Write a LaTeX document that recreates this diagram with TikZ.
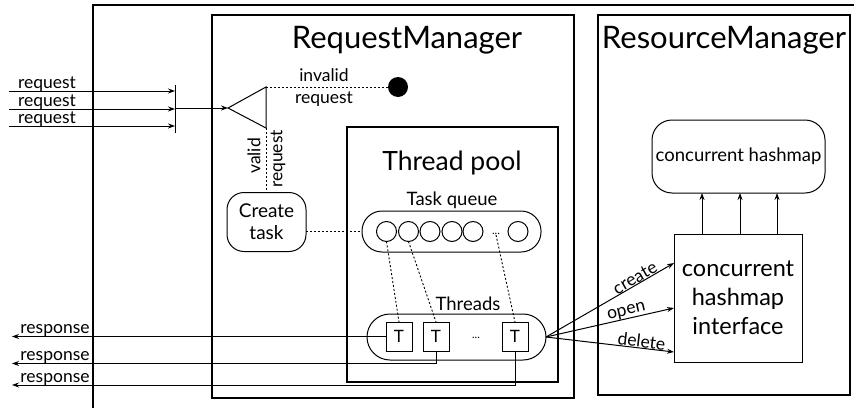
\documentclass[tikz,border=0pt]{standalone}
\usepackage{fontspec}
\setmainfont{Lato}
\usetikzlibrary{arrows.meta,calc}
\begin{document}
\begin{tikzpicture}[x=1pt,y=-1pt,
  frame/.style={draw,line width=2.6pt,inner sep=0pt,outer sep=0pt},
  ln/.style={line width=1pt},
  dots/.style={line width=0.9pt,dash pattern=on 2pt off 2pt},
  arr/.style={ln,-{Stealth[length=7pt,width=5pt]}},
  box/.style={draw,line width=1pt,inner sep=0pt,outer sep=0pt},
  big/.style={font=\fontsize{31}{34}\selectfont},
  mid/.style={font=\fontsize{26.5}{28}\selectfont},
  lbl/.style={font=\fontsize{17.5}{19}\selectfont,inner sep=1pt},
  qc/.style={circle,box,minimum size=20pt},
  tb/.style={box,minimum width=26pt,minimum height=29pt,font=\fontsize{17}{18}\selectfont}
]
\clip (0,0) rectangle (854,407);
\fill[white] (0,0) rectangle (854,407);
% outer frame
\draw[line width=2.6pt] (93,5) rectangle (900,450);
% managers
\node[frame,minimum width=362pt,minimum height=383pt] (rm) at (393,206.5) {};
\node[frame,minimum width=252pt,minimum height=380pt] (resm) at (724,205) {};
\node[frame,minimum width=211pt,minimum height=255pt] (tp) at (452.5,254.5) {};
\node[big] (rmt) at (407,40) {RequestManager};
\node[big] (resmt) at (724,40) {ResourceManager};
\node[mid] (tpt) at (452,163) {Thread pool};
% request inputs
\coordinate (bart) at (175,85);
\coordinate (barb) at (175,133);
\draw[ln] (bart) -- (barb);
\foreach \i/\y in {1/91,2/109,3/126}{
  \coordinate (in\i) at (9,\y);
  \coordinate (inend\i) at (175,\y);
  \draw[arr] (in\i) -- (inend\i);
  \node[lbl,anchor=base] (reqlbl\i) at (47,\y-3) {request};
}
% triangle
\coordinate (apex) at (228,108);
\coordinate (tritop) at (266,87);
\coordinate (tribot) at (266,128);
\coordinate (barmid) at (175,108);
\draw[ln] (apex) -- (tritop) -- (tribot) -- cycle;
\draw[arr] (barmid) -- (apex);
% invalid
\node[circle,fill=black,inner sep=0pt,minimum size=20pt] (dot) at (398,87) {};
\draw[dots] (tritop) -- (dot);
\node[lbl] (inv1) at (324,75) {invalid};
\node[lbl] (inv2) at (324,99) {request};
% create task
\node[box,rounded corners=17pt,minimum width=79pt,minimum height=59pt,align=center,
  font=\fontsize{19}{22}\selectfont] (ct) at (266.5,222) {Create\\task};
\draw[dots] (tribot) -- (ct.north -| tribot);
\node[lbl,rotate=90] (vl1) at (254,156) {valid};
\node[lbl,rotate=90] (vl2) at (278,159) {request};
% task queue
\node[box,rounded corners=20pt,minimum width=179pt,minimum height=41pt] (q) at (451.5,231.5) {};
\node[lbl,font=\fontsize{18.5}{20}\selectfont] (qt) at (452,200) {Task queue};
\node[qc] (c1) at (386.5,231.5) {};
\node[qc] (c2) at (408.5,231.5) {};
\node[qc] (c3) at (430,231.5) {};
\node[qc] (c4) at (452,231.5) {};
\node[qc] (c5) at (473,231.5) {};
\node[qc] (c6) at (518,231.5) {};
\node[font=\fontsize{11}{12}\selectfont,inner sep=0pt] (qd) at (496,234) {...};
\draw[dots] (ct.east |- q.west) -- (q.west);
% threads
\node[box,rounded corners=23pt,minimum width=179pt,minimum height=46pt] (th) at (456.5,337) {};
\node[lbl,font=\fontsize{18.5}{20}\selectfont] (tht) at (468,304) {Threads};
\node[tb] (t1) at (399,336.5) {T};
\node[tb] (t2) at (436,336.5) {T};
\node[tb] (t3) at (515,336.5) {T};
\node[font=\fontsize{11}{12}\selectfont,inner sep=0pt] (td) at (476,338) {...};
\draw[dots] (c1.south) -- (t1.north);
\draw[dots] (c2.south) -- (t2.north);
\draw[dots] (qd.south) -- (t3.north);
% responses
\coordinate (o1) at (12,336.5);
\coordinate (o2) at (12,363.5);
\coordinate (o3) at (12,385);
\draw[arr] (t1.west) -- (o1);
\draw[arr] (t2.south) |- (o2);
\draw[arr] (t3.south) |- (o3);
\node[lbl,anchor=base] (rs1) at (55,333.5) {response};
\node[lbl,anchor=base] (rs2) at (55,360.5) {response};
\node[lbl,anchor=base] (rs3) at (55,382) {response};
% resource manager
\node[box,rounded corners=20pt,minimum width=173pt,minimum height=73pt,
  font=\fontsize{18.5}{20}\selectfont] (hm) at (738.5,156.5) {concurrent hashmap};
\node[box,minimum width=128pt,minimum height=128pt,align=center,
  font=\fontsize{23.5}{29}\selectfont] (intf) at (738,298) {concurrent\\hashmap\\interface};
\foreach \s in {-36,2,39}{
  \draw[arr] ([xshift=\s pt]intf.north) -- ([xshift=\s pt]intf.north |- hm.south);
}
\draw[arr] (th.east) -- node[lbl,pos=0.72,sloped,above,inner sep=0pt] {create} ([yshift=35pt]intf.west);
\draw[arr] (th.east) -- node[lbl,pos=0.64,sloped,above,inner sep=0pt] {open} ([yshift=-10pt]intf.west);
\draw[arr] (th.east) -- node[lbl,pos=0.74,sloped,above,inner sep=0pt] {delete} ([yshift=-54pt]intf.west);
\end{tikzpicture}
\end{document}
